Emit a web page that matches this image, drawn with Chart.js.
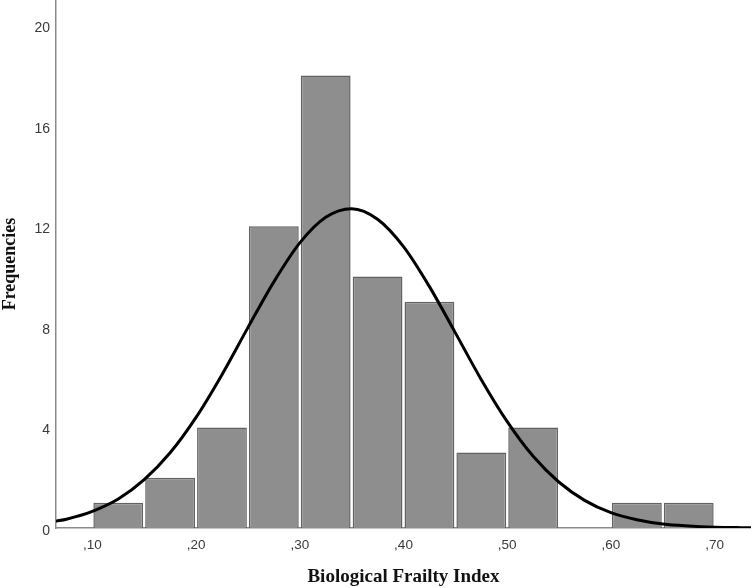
<!DOCTYPE html>
<html lang="en">
<head>
    <meta charset="UTF-8">
    <title>Biological Frailty Index</title>
    <style>
        body {
            margin: 0;
            background: #ffffff;
        }
        #chartContainer {
            width: 751px;
            height: 588px;
        }
    </style>
    <script src="https://cdn.jsdelivr.net/npm/chart.js"></script>
</head>
<body>
    <div id="chartContainer">
        <canvas id="histChart" width="751" height="588"></canvas>
    </div>
    <script>
        // histogram bins (centres, width 0.05) and counts
        const binCenters = [0.125, 0.175, 0.225, 0.275, 0.325, 0.375, 0.425, 0.475, 0.525, 0.575, 0.625, 0.675];
        const binCounts = [1, 2, 4, 12, 18, 10, 9, 3, 4, 0, 1, 1];

        // normal curve
        const curveX = [0.065, 0.075, 0.10, 0.125, 0.15, 0.175, 0.20, 0.225, 0.25, 0.275, 0.30, 0.325, 0.35,
                        0.375, 0.40, 0.425, 0.45, 0.475, 0.50, 0.525, 0.55, 0.575, 0.60, 0.625, 0.65, 0.675,
                        0.70, 0.725, 0.735];
        const curveY = [0.27, 0.35, 0.66, 1.15, 1.92, 2.99, 4.40, 6.10, 7.97, 9.79, 11.34, 12.36, 12.70,
                        12.28, 11.19, 9.60, 7.76, 5.90, 4.23, 2.85, 1.82, 1.09, 0.61, 0.33, 0.16, 0.08,
                        0.034, 0.014, 0.01];

        const xTicks = [0.10, 0.20, 0.30, 0.40, 0.50, 0.60, 0.70];
        const xTickLabels = [',10', ',20', ',30', ',40', ',50', ',60', ',70'];
        const yTicks = [0, 4, 8, 12, 16, 20];

        const xTitle = 'Biological Frailty Index';
        const yTitle = 'Frequencies';

        const ctx = document.getElementById('histChart').getContext('2d');
        const chart = new Chart(ctx, {
            data: {
                datasets: [{
                    type: 'line',
                    data: curveX.map((x, i) => ({ x: x, y: curveY[i] })),
                    borderColor: '#000000',
                    borderWidth: 3,
                    pointRadius: 0,
                    cubicInterpolationMode: 'monotone',
                    fill: false,
                    order: 0
                }, {
                    type: 'bar',
                    data: binCenters.map((x, i) => ({ x: x, y: binCounts[i] })),
                    backgroundColor: '#8e8e8e',
                    borderColor: '#626262',
                    borderWidth: 1.5,
                    barPercentage: 0.96,
                    categoryPercentage: 1.0,
                    order: 1
                }]
            },
            options: {
                responsive: false,
                animation: false,
                layout: { padding: 0 },
                plugins: {
                    legend: { display: false },
                    tooltip: { enabled: false }
                },
                scales: {
                    x: {
                        type: 'linear',
                        offset: false,
                        min: 0.065,
                        max: 0.735,
                        grid: { display: false, drawTicks: false, offset: false },
                        border: { display: true, color: '#8a8a8a', width: 1.5 },
                        afterBuildTicks: scale => {
                            scale.ticks = xTicks.map(v => ({ value: v }));
                        },
                        afterFit: scale => {
                            scale.height = 60;
                            scale.paddingLeft = 0;
                            scale.paddingRight = 0;
                        },
                        ticks: {
                            padding: 9,
                            color: '#3a3a3a',
                            font: { family: 'Liberation Sans', size: 13.5 },
                            callback: (v, i) => xTickLabels[i]
                        },
                        title: {
                            display: true,
                            text: xTitle,
                            color: '#111111',
                            padding: 0,
                            font: { family: 'Liberation Serif', size: 19, weight: 'bold' }
                        }
                    },
                    y: {
                        min: 0,
                        max: 21,
                        grid: { display: false, drawTicks: false },
                        border: { display: true, color: '#8a8a8a', width: 1.5 },
                        afterBuildTicks: scale => {
                            scale.ticks = yTicks.map(v => ({ value: v }));
                        },
                        afterFit: scale => {
                            scale.width = 56;
                            scale.paddingTop = 0;
                            scale.paddingBottom = 0;
                        },
                        ticks: {
                            padding: 6,
                            labelOffset: 3,
                            color: '#3a3a3a',
                            font: { family: 'Liberation Sans', size: 14 }
                        },
                        title: {
                            display: true,
                            text: yTitle,
                            color: '#111111',
                            padding: 0,
                            font: { family: 'Liberation Serif', size: 18, weight: 'bold' }
                        }
                    }
                }
            }
        });
    </script>
</body>
</html>
